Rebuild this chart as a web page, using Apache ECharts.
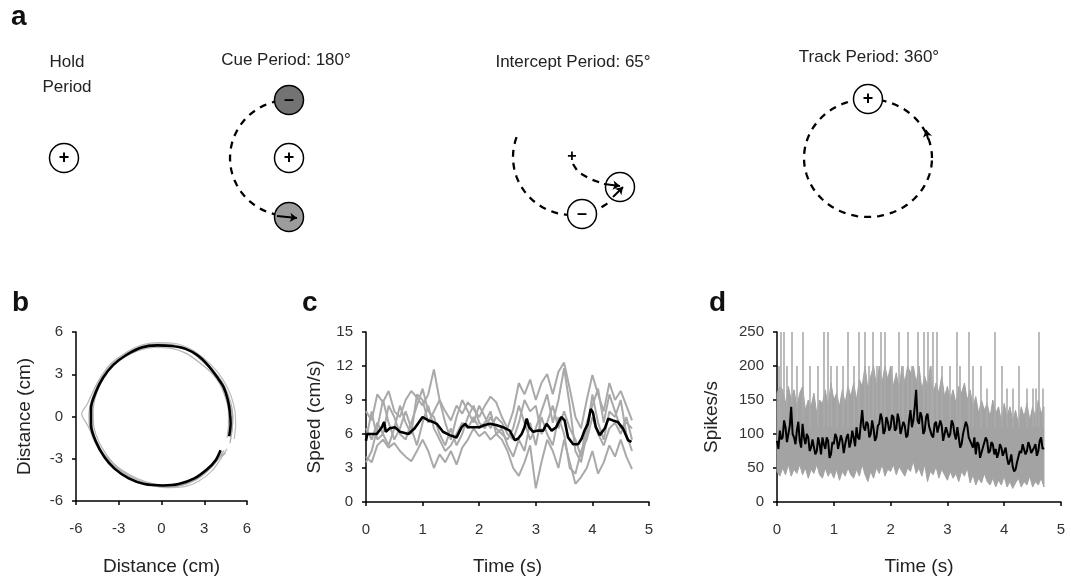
<!DOCTYPE html>
<html><head><meta charset="utf-8">
<script src="https://cdn.jsdelivr.net/npm/echarts@6/dist/echarts.min.js"></script>
<style>html,body{margin:0;padding:0;background:#fff}#c{width:1071px;height:581px}</style>
</head><body><div id="c"></div>
<script>
// ---------- Panel b: hand trajectories (cm) ----------
const trajMeanX = [4.75,4.85,4.8,4.65,4.35,3.9,3.3,2.6,1.7,0.7,-0.3,-1.4,-2.5,-3.4,-4.1,-4.6,-4.95,-4.95,-4.6,-4.0,-3.3,-2.3,-1.2,0.1,1.2,2.3,3.2,3.8,4.15];
const trajMeanY = [-1.4,-0.5,0.3,1.2,2.1,2.8,3.6,4.3,4.8,5.0,5.05,4.9,4.35,3.65,2.75,1.75,0.6,-0.6,-1.8,-2.9,-3.7,-4.4,-4.8,-4.9,-4.8,-4.4,-3.75,-3.1,-2.4];
const traj1X = [4.9,5.0,4.95,4.7,4.3,3.7,2.9,1.9,0.8,-0.4,-1.5,-2.6,-3.5,-4.2,-4.8,-5.2,-5.6,-5.2,-4.7,-4.1,-3.3,-2.3,-1.2,0.0,1.2,2.4,3.3,4.0,4.4];
const traj1Y = [-1.2,-0.3,0.6,1.5,2.4,3.2,4.0,4.7,5.1,5.15,4.95,4.45,3.8,2.9,1.8,0.9,0.2,-0.6,-1.6,-2.6,-3.4,-4.1,-4.6,-4.85,-4.85,-4.5,-3.8,-3.0,-2.4];
const traj2X = [4.6,4.7,4.7,4.5,4.1,3.5,2.7,1.7,0.6,-0.5,-1.6,-2.6,-3.5,-4.2,-4.6,-4.8,-4.75,-4.4,-3.8,-3.0,-1.9,-0.8,0.4,1.5,2.5,3.3,3.9,4.3];
const traj2Y = [-1.5,-0.6,0.4,1.3,2.3,3.1,3.8,4.5,4.85,4.9,4.7,4.2,3.5,2.5,1.5,0.4,-0.7,-1.8,-2.8,-3.7,-4.4,-4.8,-4.95,-4.85,-4.35,-3.75,-3.1,-2.5];
const traj3X = [5.1,5.2,5.15,4.9,4.5,3.9,3.0,2.0,0.9,-0.2,-1.3,-2.4,-3.3,-4.0,-4.5,-4.9,-5.1,-5.0,-4.6,-4.0,-3.2,-2.2,-1.0,0.3,1.5,2.6,3.5,4.1,4.6];
const traj3Y = [-1.6,-0.6,0.4,1.4,2.3,3.2,4.1,4.8,5.2,5.25,5.1,4.6,3.9,3.1,2.2,1.2,0.1,-1.0,-2.0,-2.9,-3.7,-4.35,-4.8,-5.05,-5.0,-4.6,-3.9,-3.1,-2.3];
const traj4X = [4.8,4.95,5.0,4.75,4.45,3.85,3.2,2.2,1.2,0.1,-1.0,-2.1,-3.1,-3.8,-4.4,-4.75,-4.9,-4.85,-4.5,-3.9,-3.0,-2.0,-0.9,0.5,1.7,2.7,3.5,4.2,4.5];
const traj4Y = [-1.9,-1.0,0.0,1.0,1.9,2.9,3.6,4.5,4.9,5.1,5.0,4.55,3.95,3.2,2.3,1.3,0.3,-0.8,-1.9,-2.9,-3.8,-4.45,-4.85,-5.0,-4.8,-4.3,-3.6,-2.8,-2.6];

// ---------- Panel c: speed (cm/s) ----------
const speedT = [0,0.1,0.2,0.3,0.4,0.5,0.6,0.7,0.8,0.9,1.0,1.1,1.2,1.3,1.4,1.5,1.6,1.7,1.8,1.9,2.0,2.1,2.2,2.3,2.4,2.5,2.6,2.7,2.8,2.9,3.0,3.1,3.2,3.3,3.4,3.5,3.6,3.7,3.8,3.9,4.0,4.1,4.2,4.3,4.4,4.5,4.6,4.7];
const speedTrial1 = [8.0,7.2,9.5,8.8,9.8,8.0,7.5,9.0,9.8,9.2,8.5,9.5,11.7,9.0,8.0,7.2,8.5,7.8,8.8,8.2,7.5,8.5,9.3,8.8,7.5,6.5,8.0,10.5,9.5,10.8,9.0,10.5,11.3,9.5,11.5,12.3,10.0,7.5,6.5,9.0,11.2,9.5,8.0,10.5,9.0,9.8,8.5,7.2];
const speedTrial2 = [4.0,3.5,5.0,5.5,4.8,5.2,4.5,4.0,3.6,4.5,5.5,4.5,3.0,4.2,3.5,4.5,3.3,4.8,5.5,6.5,5.8,6.2,5.5,6.0,5.5,4.5,3.0,2.3,3.5,5.0,1.2,3.5,5.5,4.5,3.0,5.5,3.5,1.6,2.2,3.0,4.5,2.5,3.5,5.0,4.0,5.5,4.0,2.9];
const speedTrial3 = [6.5,5.5,7.0,6.0,8.5,7.5,6.0,5.5,7.0,8.5,10.0,8.0,7.5,6.0,5.0,6.5,5.0,6.0,7.5,8.5,7.0,6.5,7.5,6.5,6.0,5.5,6.5,8.5,7.0,5.5,6.5,8.0,9.5,7.0,9.0,11.8,8.5,4.5,3.5,6.0,9.5,7.0,5.5,8.0,7.5,9.0,6.0,4.5];
const speedTrial4 = [3.5,4.5,6.5,9.0,7.0,5.5,6.5,8.0,6.5,5.0,7.0,8.5,6.5,5.5,4.5,5.0,6.0,7.0,6.5,7.5,6.5,7.0,8.0,6.0,6.5,5.0,4.0,5.5,4.5,7.0,5.0,7.5,6.0,5.0,7.5,6.0,3.0,2.5,4.5,5.5,7.5,6.0,5.0,6.5,7.0,6.0,7.5,5.5];
const speedTrial5 = [5.5,8.0,5.5,6.0,5.0,6.5,8.5,7.0,6.0,9.5,9.0,7.0,8.0,9.0,7.0,5.5,7.5,9.0,8.0,7.0,8.5,7.5,6.5,7.5,7.0,6.0,5.5,7.0,9.0,8.0,8.5,6.0,7.0,8.5,6.5,8.0,6.5,5.5,4.0,7.0,8.5,10.0,7.0,9.5,8.0,6.5,7.0,6.5];
const speedMeanT = [0,0.02,0.19,0.28,0.32,0.35,0.42,0.51,0.6,0.75,0.86,1.0,1.1,1.19,1.25,1.36,1.48,1.6,1.69,1.75,1.8,1.9,2.0,2.1,2.19,2.3,2.42,2.54,2.63,2.69,2.75,2.8,2.84,2.88,2.95,3.04,3.13,3.19,3.22,3.28,3.36,3.45,3.51,3.57,3.66,3.75,3.81,3.86,3.92,3.97,4.01,4.06,4.13,4.22,4.28,4.36,4.45,4.54,4.63,4.69];
const speedMean = [5.4,6.0,6.0,6.6,7.05,6.2,6.5,6.6,6.2,6.0,6.5,7.5,7.2,7.05,6.9,6.2,5.9,5.7,6.6,6.9,6.6,6.6,6.6,6.8,6.9,6.8,6.6,6.3,5.45,5.6,6.0,6.6,7.35,6.6,6.2,6.3,6.3,6.9,7.05,6.3,6.6,7.5,7.2,5.7,5.1,5.1,5.6,6.3,6.9,8.2,7.9,6.6,5.9,6.5,7.35,7.2,7.05,6.5,5.45,5.3];

// ---------- Panel d: firing rate (spikes/s) ----------
const bandT = [0,0.05,0.1,0.15,0.2,0.25,0.3,0.35,0.4,0.45,0.5,0.55,0.6,0.65,0.7,0.75,0.8,0.85,0.9,0.95,1.0,1.05,1.1,1.15,1.2,1.25,1.3,1.35,1.4,1.45,1.5,1.55,1.6,1.65,1.7,1.75,1.8,1.85,1.9,1.95,2.0,2.05,2.1,2.15,2.2,2.25,2.3,2.35,2.4,2.45,2.5,2.55,2.6,2.65,2.7,2.75,2.8,2.85,2.9,2.95,3.0,3.05,3.1,3.15,3.2,3.25,3.3,3.35,3.4,3.45,3.5,3.55,3.6,3.65,3.7,3.75,3.8,3.85,3.9,3.95,4.0,4.05,4.1,4.15,4.2,4.25,4.3,4.35,4.4,4.45,4.5,4.55,4.6,4.65,4.7];
const rateUpper = [160,170,165,145,170,150,165,140,160,170, 135,150,140,160,130,150,145,165,140,175, 150,160,140,165,145,170,155,175,150,180, 170,200,165,185,200,170,200,175,200,180, 200,170,190,165,200,175,200,190,200,175, 200,165,185,170,200,160,175,160,185,155, 170,150,165,145,170,160,175,150,165,140, 155,130,150,135,145,125,150,130,140,120, 145,125,140,120,135,115,140,125,145,120, 140,125,150,130,140];
const rateLower = [45,38,50,40,55,38,48,42,55,40, 50,35,48,42,55,40,35,50,38,45, 35,48,32,45,38,50,40,35,48,38, 55,40,30,45,35,50,42,55,38,48, 45,55,40,52,45,38,50,45,60,42, 50,38,55,30,45,40,52,35,48,40, 32,45,35,42,30,45,38,50,28,40, 25,35,28,42,30,25,35,22,32,25, 38,22,30,20,28,35,22,30,25,38, 22,30,25,35,22];
const rateMeanT = [0,0.025,0.05,0.075,0.1,0.125,0.15,0.175,0.2,0.225,0.25,0.275,0.3,0.325,0.35,0.375,0.4,0.425,0.45,0.475,
  0.5,0.525,0.55,0.575,0.6,0.625,0.65,0.675,0.7,0.725,0.75,0.775,0.8,0.825,0.85,0.875,0.9,0.925,0.95,0.975,
  1.0,1.025,1.05,1.075,1.1,1.125,1.15,1.175,1.2,1.225,1.25,1.275,1.3,1.325,1.35,1.375,1.4,1.425,1.45,1.475,
  1.5,1.525,1.55,1.575,1.6,1.625,1.65,1.675,1.7,1.725,1.75,1.775,1.8,1.825,1.85,1.875,1.9,1.925,1.95,1.975,
  2.0,2.025,2.05,2.075,2.1,2.125,2.15,2.175,2.2,2.225,2.25,2.275,2.3,2.325,2.35,2.375,2.4,2.425,2.45,2.475,
  2.5,2.525,2.55,2.575,2.6,2.625,2.65,2.675,2.7,2.725,2.75,2.775,2.8,2.825,2.85,2.875,2.9,2.925,2.95,2.975,
  3.0,3.025,3.05,3.075,3.1,3.125,3.15,3.175,3.2,3.225,3.25,3.275,3.3,3.325,3.35,3.375,3.4,3.425,3.45,3.475,
  3.5,3.525,3.55,3.575,3.6,3.625,3.65,3.675,3.7,3.725,3.75,3.775,3.8,3.825,3.85,3.875,3.9,3.925,3.95,3.975,
  4.0,4.025,4.05,4.075,4.1,4.125,4.15,4.175,4.2,4.225,4.25,4.275,4.3,4.325,4.35,4.375,4.4,4.425,4.45,4.475,
  4.5,4.525,4.55,4.575,4.6,4.625,4.65,4.675,4.7];
const rateMean = [90,78,105,92,95,120,110,88,100,112,140,100,95,85,105,118,90,80,115,95,
  85,100,95,75,80,92,90,70,75,95,85,70,95,85,78,95,90,65,70,88,
  85,100,95,78,80,98,90,72,85,95,100,80,88,105,95,82,110,95,92,115,
  135,110,105,118,115,95,100,120,108,90,95,112,115,130,122,100,105,125,118,105,
  110,128,125,105,108,130,120,100,100,118,112,95,98,120,135,110,120,140,165,120,
  115,132,125,100,105,125,130,112,110,98,95,115,118,102,100,120,112,90,90,110,
  108,95,100,120,115,100,92,110,95,80,85,100,100,118,112,95,95,85,80,95,
  70,88,85,65,65,80,80,95,90,72,75,88,85,70,78,65,72,85,80,68,
  70,80,65,55,60,70,52,45,48,58,60,75,72,85,85,70,75,88,82,72,
  70,80,85,68,75,90,95,78,80];
const spikeT = [0.07,0.12,0.26,0.46,0.82,0.89,1.25,1.44,1.55,1.68,1.82,1.9,2.15,2.31,2.47,2.58,2.66,2.74,2.81,3.16,3.38,3.84,4.61,
                0.03,0.18,0.35,0.58,0.72,0.95,1.05,1.15,1.35,1.62,1.75,2.02,2.22,2.38,2.7,2.9,3.05,3.22,3.45,3.58,3.95,4.25,
                3.7,4.05,4.15,4.4,4.5,4.55,4.68];
const spikeTop = [250,250,250,250,250,250,250,250,250,250,250,250,250,250,250,250,250,250,250,250,250,250,250,
                  200,200,200,200,200,200,200,200,200,200,200,200,200,200,200,200,200,200,200,200,200,200,
                  167,167,167,167,167,167,167];

// ---------- Panel a: schematic labels ----------
const periodTitles = ['Cue Period: 180°', 'Intercept Period: 65°', 'Track Period: 360°'];

const FONT = '"Liberation Sans", Arial, sans-serif';
const zip = (a, b) => a.map((v, i) => [v, b[i]]);

function arc(cx, cy, rx, ry, a0, a1, step) {
  const pts = [];
  for (let a = a0; a <= a1 + 1e-9; a += step) {
    const r = a * Math.PI / 180;
    pts.push([cx + rx * Math.cos(r), cy - ry * Math.sin(r)]);
  }
  return pts;
}

const chart = echarts.init(document.getElementById('c'));

function axis(grid, min, max, interval, name, gap, isX) {
  return {
    type: 'value', gridIndex: grid, min, max, interval,
    name, nameLocation: 'middle', nameGap: gap,
    nameTextStyle: { fontFamily: FONT, fontSize: 19, color: '#222' },
    axisLine: { show: true, onZero: false, lineStyle: { color: '#000', width: 1.5 } },
    axisTick: { show: true, length: 4, lineStyle: { color: '#000', width: 1.5 } },
    axisLabel: { fontFamily: FONT, fontSize: 15, color: '#333', margin: isX ? 20 : 13 },
    splitLine: { show: false }
  };
}

const greyLine = (name, xi, data, w, col, smooth) => ({
  type: 'line', name, xAxisIndex: xi, yAxisIndex: xi, data, showSymbol: false, symbol: 'none',
  smooth: smooth || false, lineStyle: { color: col, width: w }, z: 2, silent: true
});

// schematic geometry
const dash = { color: '#000', width: 2.3, type: [7, 6], opacity: 1 };
const dashedPaths = [
  arc(289, 158, 59, 58, 100, 262, 4),
  arc(572, 157, 59, 58, 160, 320, 4),
  [[573, 164], [578, 172], [590, 179], [604, 184]],
  arc(868, 158, 64, 59, 0, 360, 4)
];
const arrows = [
  [[277, 216], [297, 218]],
  [[604, 184], [620, 186]],
  [[613, 197], [623, 187]],
  [[928, 139], [926, 130]]
];
const circles = [
  { value: [64, 158], fill: '#fff', t: '+' },
  { value: [289, 100], fill: '#737373', t: '–' },
  { value: [289, 158], fill: '#fff', t: '+' },
  { value: [289, 217], fill: '#9c9c9c', t: '' },
  { value: [582, 214], fill: '#fff', t: '–' },
  { value: [620, 187], fill: '#fff', t: '' },
  { value: [868, 99], fill: '#fff', t: '+' }
];

const spikeLines = spikeT.map((t, i) => ({ coords: [[t, 110], [t, spikeTop[i]]] }));
const bandPoly = zip(bandT, rateUpper).concat(zip(bandT, rateLower).reverse());

const option = {
  backgroundColor: '#fff',
  animation: false,
  grid: [
    { left: 0, top: 0, width: 1071, height: 250 },
    { left: 76, top: 332, width: 171, height: 169 },
    { left: 366, top: 332, width: 283, height: 170 },
    { left: 777, top: 332, width: 284, height: 170 }
  ],
  xAxis: [
    { type: 'value', gridIndex: 0, min: 0, max: 1071, show: false },
    axis(1, -6, 6, 3, 'Distance (cm)', 56, true),
    axis(2, 0, 5, 1, 'Time (s)', 55, true),
    axis(3, 0, 5, 1, 'Time (s)', 55, true)
  ],
  yAxis: [
    { type: 'value', gridIndex: 0, min: 0, max: 250, inverse: true, show: false },
    axis(1, -6, 6, 3, 'Distance (cm)', 42, false),
    axis(2, 0, 15, 3, 'Speed (cm/s)', 42, false),
    axis(3, 0, 250, 50, 'Spikes/s', 56, false)
  ],
  graphic: [
    { type: 'text', style: { text: 'a', x: 11, y: 17, font: 'bold 28px ' + FONT, fill: '#111', textVerticalAlign: 'middle' } },
    { type: 'text', style: { text: 'b', x: 12, y: 303, font: 'bold 28px ' + FONT, fill: '#111', textVerticalAlign: 'middle' } },
    { type: 'text', style: { text: 'c', x: 302, y: 303, font: 'bold 28px ' + FONT, fill: '#111', textVerticalAlign: 'middle' } },
    { type: 'text', style: { text: 'd', x: 709, y: 303, font: 'bold 28px ' + FONT, fill: '#111', textVerticalAlign: 'middle' } },
    { type: 'text', style: { text: 'Hold', x: 67, y: 62, font: '17px ' + FONT, fill: '#222', textAlign: 'center', textVerticalAlign: 'middle' } },
    { type: 'text', style: { text: 'Period', x: 67, y: 87, font: '17px ' + FONT, fill: '#222', textAlign: 'center', textVerticalAlign: 'middle' } },
    { type: 'text', style: { text: periodTitles[0], x: 286, y: 60, font: '17px ' + FONT, fill: '#222', textAlign: 'center', textVerticalAlign: 'middle' } },
    { type: 'text', style: { text: periodTitles[1], x: 573, y: 62, font: '17px ' + FONT, fill: '#222', textAlign: 'center', textVerticalAlign: 'middle' } },
    { type: 'text', style: { text: periodTitles[2], x: 869, y: 57, font: '17px ' + FONT, fill: '#222', textAlign: 'center', textVerticalAlign: 'middle' } },
    { type: 'text', style: { text: '+', x: 572, y: 157, font: 'bold 16px ' + FONT, fill: '#000', textAlign: 'center', textVerticalAlign: 'middle' }, z: 10 }
  ],
  series: [
    // schematic
    { type: 'lines', coordinateSystem: 'cartesian2d', xAxisIndex: 0, yAxisIndex: 0, polyline: true, silent: true, z: 1,
      symbol: ['none', 'none'], lineStyle: dash, data: dashedPaths.map(p => ({ coords: p })) },
    { type: 'scatter', xAxisIndex: 0, yAxisIndex: 0, symbol: 'circle', symbolSize: 29, silent: true, z: 3,
      data: circles.map(c => ({ value: c.value, itemStyle: { color: c.fill, borderColor: '#000', borderWidth: 1.5, opacity: 1 },
        label: { show: true, formatter: c.t, position: 'inside', color: '#000', textBorderWidth: 0, fontSize: 18, fontWeight: 'bold', fontFamily: FONT } })) },
    { type: 'lines', coordinateSystem: 'cartesian2d', xAxisIndex: 0, yAxisIndex: 0, silent: true, z: 5,
      symbol: ['none', 'arrow'], symbolSize: 7, lineStyle: { color: '#000', width: 2, type: 'solid', opacity: 1 },
      data: arrows.map(p => ({ coords: p })) },
    // panel b
    greyLine('t1', 1, zip(traj1X, traj1Y), 1.2, '#b3b3b3', 0.3),
    greyLine('t2', 1, zip(traj2X, traj2Y), 1.2, '#b3b3b3', 0.3),
    greyLine('t3', 1, zip(traj3X, traj3Y), 1.2, '#bdbdbd', 0.3),
    greyLine('t4', 1, zip(traj4X, traj4Y), 1.2, '#a8a8a8', 0.3),
    Object.assign(greyLine('mean', 1, zip(trajMeanX, trajMeanY), 2.6, '#000', 0.3), { z: 4 }),
    // panel c
    greyLine('s1', 2, zip(speedT, speedTrial1), 2, '#a9a9a9'),
    greyLine('s2', 2, zip(speedT, speedTrial2), 2, '#a9a9a9'),
    greyLine('s3', 2, zip(speedT, speedTrial3), 2, '#a9a9a9'),
    greyLine('s4', 2, zip(speedT, speedTrial4), 2, '#a9a9a9'),
    greyLine('s5', 2, zip(speedT, speedTrial5), 2, '#a9a9a9'),
    Object.assign(greyLine('smean', 2, zip(speedMeanT, speedMean), 2.6, '#000'), { z: 4 }),
    // panel d
    { type: 'custom', xAxisIndex: 3, yAxisIndex: 3, silent: true, z: 2, data: [0],
      renderItem: (params, api) => ({
        type: 'polygon', shape: { points: bandPoly.map(p => api.coord(p)) },
        style: { fill: '#a3a3a3', stroke: '#a3a3a3', lineWidth: 1 }
      }) },
    { type: 'lines', coordinateSystem: 'cartesian2d', xAxisIndex: 3, yAxisIndex: 3, silent: true, z: 2,
      symbol: ['none', 'none'], lineStyle: { color: '#ababab', width: 1.6, opacity: 1 }, data: spikeLines },
    Object.assign(greyLine('rmean', 3, zip(rateMeanT, rateMean), 2, '#000'), { z: 4 })
  ]
};
chart.setOption(option);
</script>
</body></html>
